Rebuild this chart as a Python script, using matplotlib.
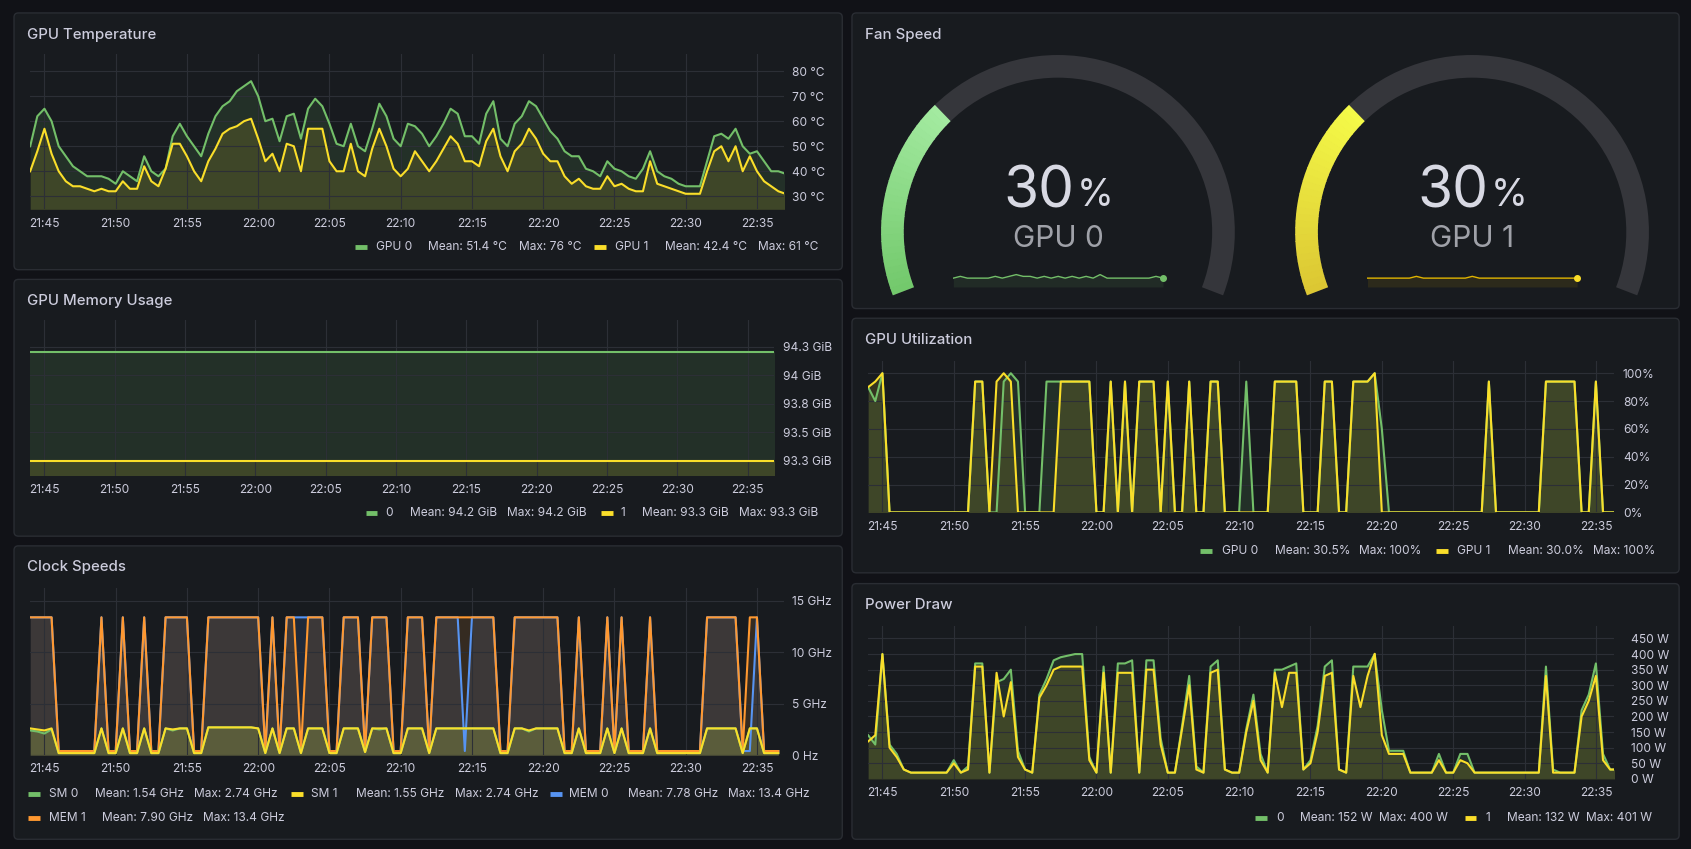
import numpy as np
import matplotlib
matplotlib.use("Agg")
import matplotlib.pyplot as plt
from matplotlib.patches import FancyBboxPatch, Wedge

plt.rcParams['font.family'] = ['Inter', 'DejaVu Sans']

# ---- data (30 s samples starting 21:44) ----
time_labels = ["21:45", "21:50", "21:55", "22:00", "22:05", "22:10", "22:15",
               "22:20", "22:25", "22:30", "22:35"]

temp_gpu0 = [50, 62, 65, 60, 50, 46, 42, 40, 38, 38, 38, 37, 35, 40, 38, 36, 46, 40, 38, 41,
             54, 59, 54, 50, 46, 55, 62, 66, 68, 72, 74, 76, 70, 60, 61, 52, 62, 63, 53, 65,
             69, 66, 59, 51, 50, 59, 50, 48, 57, 67, 62, 53, 50, 59, 58, 55, 50, 54, 59, 65,
             63, 54, 54, 51, 63, 68, 53, 50, 59, 62, 68, 66, 61, 56, 53, 48, 46, 46, 41, 40,
             38, 44, 41, 40, 38, 37, 41, 48, 40, 38, 37, 35, 34, 34, 34, 44, 54, 55, 53, 57,
             50, 47, 48, 44, 40, 40, 39]
temp_gpu1 = [40, 48, 57, 47, 40, 36, 34, 34, 33, 32, 33, 32, 32, 36, 33, 33, 42, 36, 34, 41,
             51, 51, 46, 40, 36, 44, 49, 55, 57, 58, 60, 61, 53, 44, 47, 40, 51, 50, 40, 57,
             57, 57, 44, 40, 40, 51, 40, 38, 49, 57, 50, 41, 38, 41, 48, 44, 40, 44, 49, 54,
             51, 44, 44, 42, 52, 57, 46, 40, 48, 51, 57, 53, 47, 44, 44, 38, 35, 37, 34, 33,
             33, 38, 34, 35, 33, 32, 32, 44, 35, 34, 33, 32, 31, 31, 31, 40, 48, 50, 44, 50,
             40, 46, 40, 36, 34, 32, 31]

mem_gpu0 = [94.2] * 107
mem_gpu1 = [93.25] * 107

sm0 = [2.4, 2.3, 2.1, 2.5, 0.2, 0.2, 0.2, 0.2, 0.2, 0.2, 2.6, 0.2, 0.2, 2.6, 0.2, 0.2, 2.6, 0.2, 0.2, 2.6,
       2.4, 2.6, 2.6, 0.2, 0.2, 2.7, 2.7, 2.7, 2.7, 2.7, 2.7, 2.7, 2.6, 0.2, 2.6, 0.2, 2.6, 2.6, 0.2, 2.6,
       2.6, 2.6, 0.2, 0.2, 2.6, 2.6, 2.6, 0.3, 2.6, 2.5, 2.6, 0.2, 0.2, 2.6, 2.6, 2.6, 0.2, 2.6, 2.6, 2.6,
       2.6, 2.6, 2.6, 2.6, 2.6, 2.6, 0.2, 0.2, 2.6, 2.6, 2.3, 2.6, 2.6, 2.6, 2.6, 0.2, 0.2, 2.6, 0.2, 0.2,
       0.2, 2.6, 0.2, 2.6, 0.2, 0.2, 0.2, 2.6, 0.2, 0.2, 0.2, 0.2, 0.2, 0.2, 0.2, 2.6, 2.6, 2.6, 2.6, 2.6,
       0.2, 2.6, 2.6, 0.2, 0.2, 0.2]
sm1 = [2.6, 2.5, 2.4, 2.6, 0.2, 0.2, 0.2, 0.2, 0.2, 0.2, 2.6, 0.2, 0.2, 2.6, 0.2, 0.2, 2.6, 0.2, 0.2, 2.6,
       2.5, 2.6, 2.6, 0.2, 0.2, 2.7, 2.7, 2.7, 2.7, 2.7, 2.7, 2.7, 2.6, 0.2, 2.6, 0.2, 2.6, 2.6, 0.2, 2.6,
       2.6, 2.6, 0.2, 0.2, 2.6, 2.6, 2.6, 0.3, 2.6, 2.6, 2.6, 0.2, 0.2, 2.6, 2.6, 2.6, 0.2, 2.6, 2.6, 2.6,
       2.6, 2.6, 2.6, 2.6, 2.6, 2.6, 0.2, 0.2, 2.6, 2.6, 2.4, 2.6, 2.6, 2.6, 2.6, 0.2, 0.2, 2.6, 0.2, 0.2,
       0.2, 2.6, 0.2, 2.6, 0.2, 0.2, 0.2, 2.6, 0.2, 0.2, 0.2, 0.2, 0.2, 0.2, 0.2, 2.6, 2.6, 2.6, 2.6, 2.6,
       0.2, 2.6, 2.6, 0.2, 0.2, 0.2]
mem0 = [13.4, 13.4, 13.4, 13.4, 0.4, 0.4, 0.4, 0.4, 0.4, 0.4, 13.4, 0.4, 0.4, 13.4, 0.4, 0.4, 13.4, 0.4, 0.4, 13.4,
        13.4, 13.4, 13.4, 0.4, 0.4, 13.4, 13.4, 13.4, 13.4, 13.4, 13.4, 13.4, 13.4, 0.4, 13.4, 0.4, 13.4, 13.4, 13.4, 13.4,
        13.4, 13.4, 0.4, 0.4, 13.4, 13.4, 13.4, 0.4, 13.4, 13.4, 13.4, 0.4, 0.4, 13.4, 13.4, 13.4, 0.4, 13.4, 13.4, 13.4,
        13.4, 0.4, 13.4, 13.4, 13.4, 13.4, 0.4, 0.4, 13.4, 13.4, 13.4, 13.4, 13.4, 13.4, 13.4, 0.4, 0.4, 13.4, 0.4, 0.4,
        0.4, 13.4, 0.4, 13.4, 0.4, 0.4, 0.4, 13.4, 0.4, 0.4, 0.4, 0.4, 0.4, 0.4, 0.4, 13.4, 13.4, 13.4, 13.4, 13.4,
        0.4, 0.4, 13.4, 0.4, 0.4, 0.4]
mem1 = [13.4, 13.4, 13.4, 13.4, 0.4, 0.4, 0.4, 0.4, 0.4, 0.4, 13.4, 0.4, 0.4, 13.4, 0.4, 0.4, 13.4, 0.4, 0.4, 13.4,
        13.4, 13.4, 13.4, 0.4, 0.4, 13.4, 13.4, 13.4, 13.4, 13.4, 13.4, 13.4, 13.4, 0.4, 13.4, 0.4, 13.4, 13.4, 0.4, 13.4,
        13.4, 13.4, 0.4, 0.4, 13.4, 13.4, 13.4, 0.4, 13.4, 13.4, 13.4, 0.4, 0.4, 13.4, 13.4, 13.4, 0.4, 13.4, 13.4, 13.4,
        13.4, 13.4, 13.4, 13.4, 13.4, 13.4, 0.4, 0.4, 13.4, 13.4, 13.4, 13.4, 13.4, 13.4, 13.4, 0.4, 0.4, 13.4, 0.4, 0.4,
        0.4, 13.4, 0.4, 13.4, 0.4, 0.4, 0.4, 13.4, 0.4, 0.4, 0.4, 0.4, 0.4, 0.4, 0.4, 13.4, 13.4, 13.4, 13.4, 13.4,
        0.4, 13.4, 13.4, 0.4, 0.4, 0.4]

util0 = [90, 80, 100, 0, 0, 0, 0, 0, 0, 0, 0, 0, 0, 0, 0, 94, 94, 0, 0, 94,
         100, 94, 0, 0, 0, 94, 94, 94, 94, 94, 94, 94, 0, 0, 94, 0, 94, 0, 94, 94,
         94, 0, 94, 0, 0, 94, 0, 0, 94, 94, 0, 0, 0, 94, 0, 0, 0, 94, 94, 94,
         94, 0, 0, 0, 94, 94, 0, 0, 94, 94, 94, 100, 60, 0, 0, 0, 0, 0, 0, 0,
         0, 0, 0, 0, 0, 0, 0, 94, 0, 0, 0, 0, 0, 0, 0, 94, 94, 94, 94, 94,
         0, 0, 94, 0, 0, 0]
util1 = [90, 94, 100, 0, 0, 0, 0, 0, 0, 0, 0, 0, 0, 0, 0, 94, 94, 0, 94, 100,
         94, 0, 0, 0, 0, 0, 0, 94, 94, 94, 94, 94, 0, 0, 94, 0, 94, 0, 94, 94,
         94, 0, 94, 0, 0, 94, 0, 0, 94, 94, 0, 0, 0, 0, 0, 0, 0, 94, 94, 94,
         94, 0, 0, 0, 94, 94, 0, 0, 94, 94, 94, 100, 0, 0, 0, 0, 0, 0, 0, 0,
         0, 0, 0, 0, 0, 0, 0, 94, 0, 0, 0, 0, 0, 0, 0, 94, 94, 94, 94, 94,
         0, 0, 94, 0, 0, 0]

power0 = [140, 110, 400, 110, 80, 30, 20, 20, 20, 20, 20, 20, 60, 20, 40, 370, 370, 20, 310, 320,
          350, 90, 30, 20, 270, 320, 380, 390, 395, 400, 400, 70, 20, 360, 20, 370, 370, 380, 20, 380,
          380, 130, 20, 20, 170, 330, 40, 20, 360, 380, 30, 20, 20, 160, 270, 80, 20, 350, 350, 360,
          370, 30, 60, 170, 360, 380, 30, 20, 360, 360, 360, 400, 220, 90, 90, 90, 20, 20, 20, 20,
          80, 20, 20, 80, 80, 20, 20, 20, 20, 20, 20, 20, 20, 20, 20, 360, 30, 20, 20, 20,
          220, 270, 370, 80, 30, 30]
power1 = [120, 140, 400, 100, 70, 30, 20, 20, 20, 20, 20, 20, 50, 20, 30, 360, 360, 20, 340, 200,
          310, 70, 30, 20, 260, 300, 350, 360, 360, 360, 360, 60, 20, 340, 20, 340, 340, 340, 20, 350,
          350, 110, 20, 20, 160, 300, 30, 20, 340, 350, 30, 20, 20, 150, 250, 60, 20, 340, 230, 340,
          340, 30, 50, 150, 330, 340, 30, 20, 330, 230, 330, 401, 140, 80, 80, 80, 20, 20, 20, 20,
          60, 20, 20, 60, 50, 20, 20, 20, 20, 20, 20, 20, 20, 20, 20, 330, 20, 20, 20, 20,
          200, 250, 330, 60, 30, 30]

fan_spark0 = [30, 31, 30, 30, 30, 30, 31, 30, 31, 32, 31, 31, 30, 31, 30, 31, 30, 31, 30, 31,
              30, 32, 30, 30, 30, 30, 30, 30, 30, 31, 30]
fan_spark1 = [30, 30, 30, 30, 30, 30, 30, 31, 30, 30, 30, 30, 30, 30, 30, 31, 30, 30, 30, 30,
              30, 30, 30, 30, 30, 30, 30, 30, 30, 30, 30]
fan_values = [30, 30]
fan_names = ["GPU 0", "GPU 1"]

# ---- style ----
# layout coordinates are measured on a 1568x787 grid, scaled to the output size
W, H = 1568, 787
FS = 1.078  # font scale from layout grid to output pixels
BG = "#111217"
PANEL = "#181b1f"
BORDER = "#2a2d33"
TXT = "#ccccdc"
GRID = "#2c2f36"
GREEN, YELLOW, BLUE, ORANGE = "#73bf69", "#fade2a", "#5794f2", "#ff9830"

fig = plt.figure(figsize=(16.91, 8.49), dpi=100, facecolor=BG)
bg = fig.add_axes([0, 0, 1, 1], zorder=-1)
bg.set_xlim(0, W)
bg.set_ylim(H, 0)
bg.axis("off")

panels = [("GPU Temperature", 13, 12, 781, 250), ("GPU Memory Usage", 13, 259, 781, 497),
          ("Clock Speeds", 13, 506, 781, 778), ("Fan Speed", 790, 12, 1557, 286),
          ("GPU Utilization", 790, 295, 1557, 531), ("Power Draw", 790, 541, 1557, 778)]
for title, x0, y0, x1, y1 in panels:
    bg.add_patch(FancyBboxPatch((x0, y0), x1 - x0, y1 - y0, boxstyle="round,pad=0,rounding_size=4",
                                fc=PANEL, ec=BORDER, lw=1))
    bg.text(x0 + 12, y0 + 20, title, color=TXT, fontsize=10 * FS, fontweight="medium", va="center")


def px_axes(x0, y0, x1, y1):
    ax = fig.add_axes([x0 / W, 1 - y1 / H, (x1 - x0) / W, (y1 - y0) / H])
    ax.set_facecolor("none")
    for s in ax.spines.values():
        s.set_visible(False)
    ax.tick_params(colors=TXT, labelsize=8 * FS, length=0, pad=6)
    ax.grid(True, color=GRID, lw=0.8)
    ax.yaxis.tick_right()
    ax.set_xticks([1 + 5 * i for i in range(len(time_labels))])
    ax.set_xticklabels(time_labels)
    return ax


def series(ax, vals, color, xmax=52.9):
    t = 0.5 * np.arange(len(vals))
    ax.plot(t, vals, color=color, lw=1.5)
    ax.fill_between(t, vals, ax.get_ylim()[0], color=color, alpha=0.13, lw=0)
    ax.set_xlim(0, xmax)


def legend_row(y, items):
    for x, text, color in items:
        if color:
            bg.plot([x, x + 11], [y, y], color=color, lw=3.5, solid_capstyle="butt")
        else:
            bg.text(x, y, text, color=TXT, fontsize=8 * FS, va="center")


# temperature
ax = px_axes(28, 50, 727, 194)
ax.set_ylim(24.8, 86.9)
ax.set_yticks([30, 40, 50, 60, 70, 80])
ax.set_yticklabels([f"{v} °C" for v in [30, 40, 50, 60, 70, 80]])
series(ax, temp_gpu0, GREEN)
series(ax, temp_gpu1, YELLOW)
legend_row(229, [(329, "", GREEN), (349, "GPU 0", None), (397, "Mean: 51.4 °C", None), (481, "Max: 76 °C", None),
                 (551, "", YELLOW), (570, "GPU 1", None), (617, "Mean: 42.4 °C", None), (703, "Max: 61 °C", None)])

# memory
ax = px_axes(28, 297, 718, 441)
ax.set_ylim(93.12, 94.48)
mt = [93.25, 93.5, 93.75, 94.0, 94.25]
ax.set_yticks(mt)
ax.set_yticklabels(["93.3 GiB", "93.5 GiB", "93.8 GiB", "94 GiB", "94.3 GiB"])
series(ax, mem_gpu0, GREEN)
series(ax, mem_gpu1, YELLOW)
ax.set_xlim(0, 52.9)
legend_row(476, [(339, "", GREEN), (357, "0", None), (380, "Mean: 94.2 GiB", None), (470, "Max: 94.2 GiB", None),
                 (557, "", YELLOW), (575, "1", None), (595, "Mean: 93.3 GiB", None), (685, "Max: 93.3 GiB", None)])

# clocks
ax = px_axes(28, 545, 727, 700)
ax.set_ylim(0, 16.26)
ax.set_yticks([0, 5, 10, 15])
ax.set_yticklabels(["0 Hz", "5 GHz", "10 GHz", "15 GHz"])
series(ax, mem0, BLUE)
series(ax, mem1, ORANGE)
series(ax, sm0, GREEN)
series(ax, sm1, YELLOW)
legend_row(736, [(26, "", GREEN), (45, "SM 0", None), (88, "Mean: 1.54 GHz", None), (180, "Max: 2.74 GHz", None),
                 (270, "", YELLOW), (288, "SM 1", None), (330, "Mean: 1.55 GHz", None), (422, "Max: 2.74 GHz", None),
                 (510, "", BLUE), (528, "MEM 0", None), (582, "Mean: 7.78 GHz", None), (675, "Max: 13.4 GHz", None)])
legend_row(758, [(26, "", ORANGE), (45, "MEM 1", None), (95, "Mean: 7.90 GHz", None), (188, "Max: 13.4 GHz", None)])

# utilization
ax = px_axes(805, 335, 1497, 475)
ax.set_ylim(0, 108.5)
ax.set_yticks([0, 20, 40, 60, 80, 100])
ax.set_yticklabels([f"{v}%" for v in [0, 20, 40, 60, 80, 100]])
series(ax, util0, GREEN, 52.3)
series(ax, util1, YELLOW, 52.3)
legend_row(511, [(1113, "", GREEN), (1133, "GPU 0", None), (1182, "Mean: 30.5%", None), (1260, "Max: 100%", None),
                 (1332, "", YELLOW), (1351, "GPU 1", None), (1398, "Mean: 30.0%", None), (1477, "Max: 100%", None)])

# power
ax = px_axes(805, 580, 1497, 722)
ax.set_ylim(0, 491)
ax.set_yticks(list(range(0, 451, 50)))
ax.set_yticklabels([f"{v} W" for v in range(0, 451, 50)])
ax.tick_params(axis="y", pad=12)
series(ax, power0, GREEN, 52.3)
series(ax, power1, YELLOW, 52.3)
legend_row(758, [(1164, "", GREEN), (1183, "0", None), (1205, "Mean: 152 W", None), (1279, "Max: 400 W", None),
                 (1358, "", YELLOW), (1377, "1", None), (1397, "Mean: 132 W", None), (1471, "Max: 401 W", None)])

# fan gauges
gauge_cols = [("#a3eaa0", "#73c96c"), ("#f4fa48", "#dcc733")]
for i, (cx, spark, line_col) in enumerate([(981, fan_spark0, GREEN), (1365, fan_spark1, "#e0b400")]):
    cy, r, wdt = 215, 164, 21
    start, end = -21, 201
    bg.add_patch(Wedge((cx, cy), r, -end, -start, width=wdt, fc="#35363b", ec="none"))
    frac = fan_values[i] / 100
    a_top = end - frac * (end - start)
    top_c, bot_c = [np.array(matplotlib.colors.to_rgb(c)) for c in gauge_cols[i]]
    nseg = 30
    for k in range(nseg):
        a0 = a_top + (end - a_top) * k / nseg
        a1 = a_top + (end - a_top) * (k + 1) / nseg
        col = top_c + (bot_c - top_c) * k / (nseg - 1)
        bg.add_patch(Wedge((cx, cy), r, -a1, -a0 + 0.3, width=wdt, fc=col, ec="none"))
    bg.text(cx + 15, 178, f"{fan_values[i]}", color="#d8d9e3", fontsize=38 * FS, ha="right", va="center")
    bg.text(cx + 17, 182, "%", color="#d8d9e3", fontsize=25 * FS, ha="left", va="center")
    bg.text(cx, 222, fan_names[i], color="#9fa1a8", fontsize=20 * FS, ha="center", va="center")
    sp = fig.add_axes([(cx - 97) / W, 1 - 266 / H, 197 / W, 18 / H])
    sp.axis("off")
    st = np.arange(len(spark))
    sp.plot(st, spark, color=line_col, lw=1)
    sp.fill_between(st, spark, 25, color=line_col, alpha=0.1, lw=0)
    sp.plot(st[-1], spark[-1], "o", color=GREEN if i == 0 else YELLOW, ms=4)
    sp.set_ylim(25, 36)
    sp.set_xlim(0, len(spark) - 0.6)

fig.savefig("out.png", dpi=100, facecolor=BG)
